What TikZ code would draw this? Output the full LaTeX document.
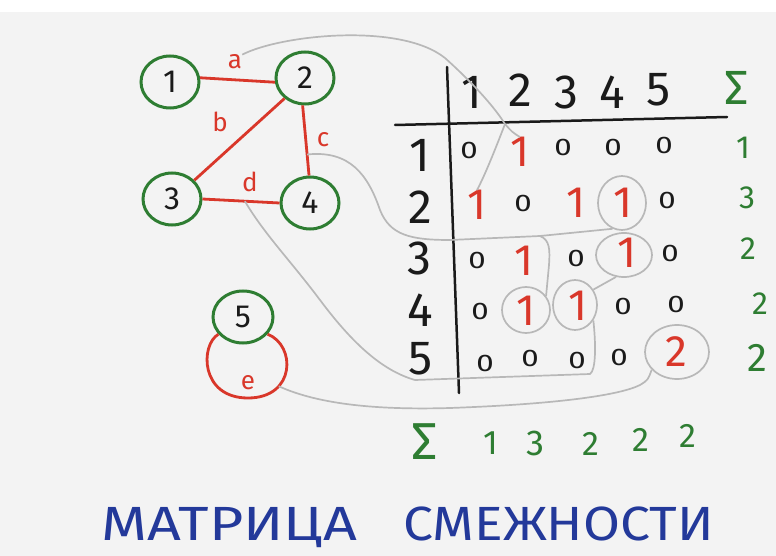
\documentclass[tikz,border=0pt]{standalone}
\usepackage{fontspec}
\setmainfont{Fira Sans}
\usetikzlibrary{shapes.geometric}
\definecolor{gr}{HTML}{2E7D32}
\definecolor{rd}{HTML}{D9372A}
\definecolor{ln}{HTML}{B8B8B8}
\definecolor{bg}{HTML}{F3F3F3}
\definecolor{ttl}{HTML}{23399A}
\definecolor{ink}{HTML}{1A1A1A}
\begin{document}
\begin{tikzpicture}[x=1pt,y=-1pt,
 vert/.style={ellipse,draw=gr,line width=3pt,minimum width=58pt,minimum height=52pt,inner sep=0pt,font=\fontsize{32}{32}\selectfont,text=ink,fill=bg},
 redge/.style={draw=rd,line width=2.8pt},
 elab/.style={text=rd,font=\fontsize{26}{26}\selectfont,inner sep=0pt},
 hdr/.style={text=ink,font=\fontsize{48}{48}\selectfont,inner sep=0pt},
 zero/.style={text=ink,font=\fontsize{24}{24}\selectfont,inner sep=0pt,xscale=1.3},
 one/.style={text=rd,font=\fontsize{44}{44}\selectfont,inner sep=0pt},
 sumv/.style={text=gr,font=\fontsize{32}{32}\selectfont,inner sep=0pt},
 bub/.style={ellipse,draw=ln,line width=1.7pt,inner sep=0pt},
 glink/.style={draw=ln,line width=1.7pt},
 rule/.style={draw=ink,line width=2.5pt,line cap=round}
]
\fill[white] (0,0) rectangle (776,556);
\fill[bg] (0,12) rectangle (776,556);
\useasboundingbox (0,0) rectangle (776,556);

% graph
\node[vert] (n1) at (170,82) {1};
\node[vert] (n2) at (305,78) {2};
\node[vert] (n3) at (172,199) {3};
\node[vert] (n4) at (310,203) {4};
\node[vert,minimum width=60pt] (n5) at (243,317) {5};

\draw[redge] (n1.8) -- (n2.188);
\draw[redge] (n2.225) -- (n3.40);
\draw[redge] (n2.265) -- (n4.92) coordinate[pos=0.7] (gc);
\draw[redge] (n3.east) -- (n4.west) coordinate[pos=0.55] (gd);
\draw[redge] (n5.215) .. controls (200,345) and (200,398) .. (248,398)
   .. controls (296,398) and (296,345) .. (n5.325) coordinate[pos=0.3] (ge);

\node[elab] (la) at (235,62) {a};
\node[elab] (lb) at (220,122) {b};
\node[elab] (lc) at (323,140) {c};
\node[elab] (ld) at (250,182) {d};
\node[elab] (le) at (248,383) {e};

% matrix rules
\coordinate (vt) at (447,67); \coordinate (vb) at (459,393);
\coordinate (hl) at (395,125); \coordinate (hr) at (727,117);
\draw[rule] (vt) -- (vb);
\draw[rule] (hl) -- (hr);

% header
\node[hdr] (c1) at (472,92) {1};
\node[hdr] (c2) at (520,90) {2};
\node[hdr] (c3) at (566,92) {3};
\node[hdr] (c4) at (612,92) {4};
\node[hdr] (c5) at (659,90) {5};
\node[sumv,font=\fontsize{48}{48}\selectfont] (sr) at (737,88) {Σ};

% row labels
\node[hdr] (r1) at (420,155) {1};
\node[hdr] (r2) at (420,207) {2};
\node[hdr] (r3) at (419,258) {3};
\node[hdr] (r4) at (420,310) {4};
\node[hdr] (r5) at (421,359) {5};

% zeros
\node[zero] (z11) at (469,150) {0};
\node[zero] (z13) at (563,147) {0};
\node[zero] (z14) at (613,147) {0};
\node[zero] (z15) at (664,145) {0};
\node[zero] (z22) at (523,203) {0};
\node[zero] (z25) at (667,200) {0};
\node[zero] (z31) at (477,260) {0};
\node[zero] (z33) at (576,258) {0};
\node[zero] (z35) at (670,253) {0};
\node[zero] (z41) at (480,311) {0};
\node[zero] (z44) at (623,306) {0};
\node[zero] (z45) at (676,304) {0};
\node[zero] (z51) at (485,363) {0};
\node[zero] (z52) at (530,358) {0};
\node[zero] (z53) at (577,360) {0};
\node[zero] (z54) at (619,357) {0};

% ones
\node[one] (e12) at (520,152) {1};
\node[one] (e21) at (477,205) {1};
\node[one] (e23) at (576,203) {1};
\node[one] (e24) at (623,203) {1};
\node[one] (e32) at (524,261) {1};
\node[one] (e34) at (627,253) {1};
\node[one] (e42) at (526,311) {1};
\node[one] (e43) at (578,306) {1};
\node[one] (e55) at (676,352) {2};

% bubbles
\node[bub,minimum width=48pt,minimum height=54pt] (b24) at (622,203) {};
\node[bub,minimum width=56pt,minimum height=44pt] (b34) at (624,255) {};
\node[bub,minimum width=48pt,minimum height=46pt] (b42) at (526,310) {};
\node[bub,minimum width=44pt,minimum height=50pt] (b43) at (575,305) {};
\node[bub,minimum width=64pt,minimum height=54pt] (b55) at (677,352) {};

% row sums
\node[sumv] (s1) at (743,148) {1};
\node[sumv] (s2) at (747,198) {3};
\node[sumv] (s3) at (748,249) {2};
\node[sumv] (s4) at (760,304) {2};
\node[sumv,font=\fontsize{40}{40}\selectfont] (s5) at (757,358) {2};

% column sums
\node[sumv,font=\fontsize{52}{52}\selectfont] (sb) at (425,442) {Σ};
\node[sumv,font=\fontsize{34}{34}\selectfont] (t1) at (491,443) {1};
\node[sumv,font=\fontsize{36}{36}\selectfont] (t2) at (535,443) {3};
\node[sumv,font=\fontsize{34}{34}\selectfont] (t3) at (591,444) {2};
\node[sumv,font=\fontsize{34}{34}\selectfont] (t4) at (641,440) {2};
\node[sumv,font=\fontsize{34}{34}\selectfont] (t5) at (688,436) {2};

% gray mapping curves
\coordinate (fork) at (505,124);
\draw[glink] (la.north east) .. controls (280,35) and (400,22) .. (445,58) .. controls (475,85) and (495,108) .. (fork);
\draw[glink] (fork) .. controls (512,132) .. (e12.north);
\draw[glink] (fork) .. controls (495,150) and (485,175) .. (e21.north);

\coordinate (cfork) at (540,236);
\draw[glink] (gc) .. controls (350,150) and (368,175) .. (380,210) .. controls (390,235) and (410,240) .. (450,240) -- (cfork) -- (b24.250);
\draw[glink] (cfork) .. controls (550,240) and (550,250) .. (549,265) -- (b42.35);

\draw[glink] (gd) .. controls (265,235) and (290,260) .. (320,300) .. controls (350,340) and (380,370) .. (415,380) -- (590,374) .. controls (596,370) and (596,345) .. (b43.-40);
\draw[glink] (b43.40) -- (b34.250);

\draw[glink] (ge) .. controls (320,405) and (380,410) .. (450,408) .. controls (560,404) and (620,395) .. (640,385) .. controls (648,380) .. (b55.215);

% title
\node[text=ttl,font=\fontsize{48}{48}\selectfont,inner sep=0pt] (title) at (408,527)
  {\scalebox{1.23}[1]{МАТРИЦА}\hspace{46pt}\scalebox{1.115}[1]{СМЕЖНОСТИ}};
\end{tikzpicture}
\end{document}
